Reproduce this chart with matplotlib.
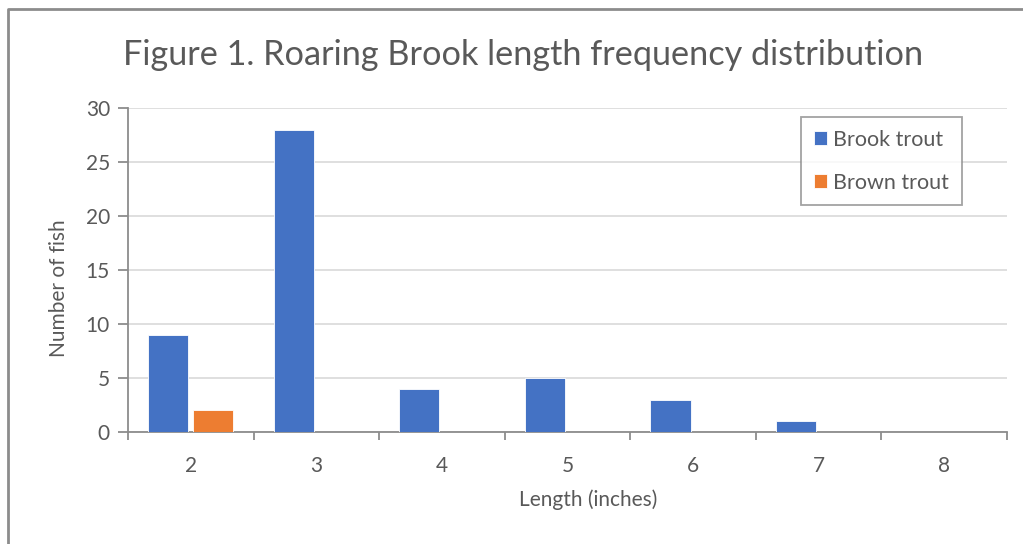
import numpy as np
import matplotlib.pyplot as plt
from matplotlib.lines import Line2D

plt.rcParams['font.family'] = ['Lato', 'DejaVu Sans']

lengths = ['2', '3', '4', '5', '6', '7', '8']
brook = [9, 28, 4, 5, 3, 1, 0]
brown = [2, 0, 0, 0, 0, 0, 0]

txt = '#595959'
axc = '#8c8c8c'

fig = plt.figure(figsize=(10.23, 5.44), dpi=100)
ax = fig.add_axes([128/1023, 1-432/544, (1007-128)/1023, (432-108)/544])

x = np.arange(len(lengths))
w = 0.32
ax.bar(x - 0.18, brook, w, color='#4472c4', edgecolor='white', linewidth=0.6, label='Brook trout', zorder=3)
ax.bar(x + 0.18, brown, w, color='#ed7d31', edgecolor='white', linewidth=0.6, label='Brown trout', zorder=3)

ax.set_xlim(-0.5, len(lengths) - 0.5)
ax.set_ylim(0, 30)
ax.set_yticks(range(0, 31, 5))
ax.grid(axis='y', color='#d9d9d9', linewidth=1.2, zorder=0)
ax.set_xticks(x)
ax.set_xticklabels(lengths)
ax.set_xticks(np.arange(-0.5, len(lengths)), minor=True)
ax.tick_params(axis='x', which='major', length=0, pad=17, labelsize=15, labelcolor=txt)
ax.tick_params(axis='x', which='minor', length=6, width=1.3, color=axc, direction='out')
ax.tick_params(axis='y', length=7, width=1.3, color=axc, pad=6, labelsize=15, labelcolor=txt)

for s in ['top', 'right']:
    ax.spines[s].set_visible(False)
for s in ['left', 'bottom']:
    ax.spines[s].set_color(axc)
    ax.spines[s].set_linewidth(1.3)

ax.set_xlabel('Length (inches)', fontsize=15, color=txt)
ax.set_ylabel('Number of fish', fontsize=15, color=txt)
ax.xaxis.set_label_coords((588-128)/879, -(489-432)/324)
ax.yaxis.set_label_coords(-(128-69)/879, (432-288)/324)

fig.text(0.511, 1-55/544, 'Figure 1. Roaring Brook length frequency distribution',
         ha='center', va='center', fontsize=24.7, color=txt)

leg = ax.legend(loc='upper left', bbox_to_anchor=(801/1023, 1-117/544), bbox_transform=fig.transFigure,
                fontsize=15.5, frameon=True, fancybox=False, edgecolor='#8c8c8c',
                handlelength=0.6, handleheight=0.6, handletextpad=0.3, labelspacing=1.05,
                borderpad=0.6, borderaxespad=0, labelcolor=txt)
leg.get_frame().set_linewidth(1.3)

fig.add_artist(Line2D([8/1023, 8/1023, 1.0], [0.0, 1-9/544, 1-9/544],
                      transform=fig.transFigure, color='#8c8c8c', linewidth=2))

fig.savefig('out.png', dpi=100)
